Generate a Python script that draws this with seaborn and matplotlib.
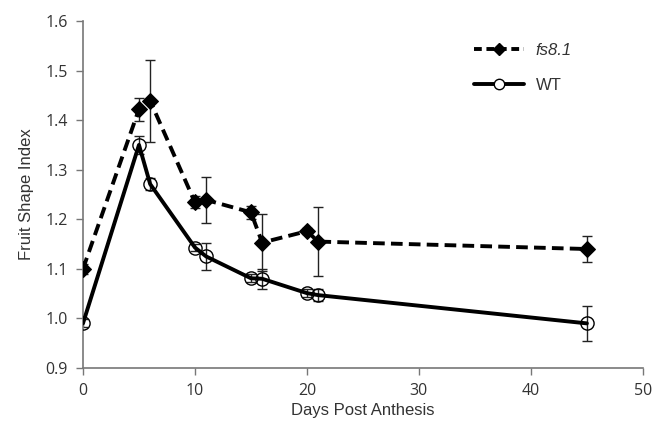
import matplotlib
matplotlib.use("Agg")
import matplotlib.pyplot as plt
import seaborn as sns
import pandas as pd
from matplotlib.lines import Line2D

days = [0, 5, 6, 10, 11, 15, 16, 20, 21, 45]
fs81_mean = [1.100, 1.422, 1.439, 1.234, 1.239, 1.214, 1.153, 1.176, 1.155, 1.140]
fs81_err = [0.010, 0.023, 0.083, 0.012, 0.047, 0.013, 0.057, 0.006, 0.070, 0.027]
wt_mean = [0.990, 1.350, 1.271, 1.143, 1.125, 1.081, 1.080, 1.051, 1.047, 0.990]
wt_err = [0.008, 0.018, 0.012, 0.008, 0.028, 0.008, 0.020, 0.008, 0.012, 0.035]
xticks = [0, 10, 20, 30, 40, 50]
yticks = [0.9, 1.0, 1.1, 1.2, 1.3, 1.4, 1.5, 1.6]

sns.set_theme(style="white")
plt.rcParams["font.family"] = ["Liberation Sans", "DejaVu Sans"]

df = pd.DataFrame({
    "day": days * 2,
    "fsi": fs81_mean + wt_mean,
    "err": fs81_err + wt_err,
    "line": ["fs8.1"] * len(days) + ["WT"] * len(days),
})

fig = plt.figure(figsize=(6.56, 4.30), dpi=100)
ax = fig.add_axes([0.1265, 0.1442, 0.8535, 0.8070])

# error bars
ax.errorbar(days, fs81_mean, yerr=fs81_err, fmt="none", ecolor="#222222",
            elinewidth=1.0, capsize=3.5, capthick=1.0, zorder=2)
ax.errorbar(days, wt_mean, yerr=wt_err, fmt="none", ecolor="#222222",
            elinewidth=1.0, capsize=3.5, capthick=1.0, zorder=2)

sub_f = df[df["line"] == "fs8.1"]
sub_w = df[df["line"] == "WT"]
sns.lineplot(data=sub_f, x="day", y="fsi", ax=ax, color="black", lw=2.8,
             linestyle=(0, (3.0, 1.6)), marker="D", markersize=8.5,
             markerfacecolor="black", markeredgecolor="black", zorder=3,
             errorbar=None, legend=False)
sns.lineplot(data=sub_w, x="day", y="fsi", ax=ax, color="black", lw=2.8,
             marker="o", markersize=9.5, markerfacecolor="none",
             markeredgecolor="black", markeredgewidth=1.0, zorder=3,
             errorbar=None, legend=False)

ax.set_xlim(0, 50)
ax.set_ylim(0.9, 1.6)
ax.set_xticks(xticks)
ax.set_yticks(yticks)
ax.set_yticklabels([f"{v:.1f}" for v in yticks])
ax.set_xticklabels([str(v) for v in xticks])
ax.tick_params(axis="both", which="both", direction="out", length=5, width=1,
               color="#777777", labelsize=11.5, labelcolor="#333333", pad=6,
               left=True, bottom=True)
for lab in ax.get_xticklabels() + ax.get_yticklabels():
    lab.set_fontfamily(["Open Sans", "DejaVu Sans"])
for s in ["top", "right"]:
    ax.spines[s].set_visible(False)
for s in ["left", "bottom"]:
    ax.spines[s].set_color("#777777")
    ax.spines[s].set_linewidth(1.2)
ax.set_xlabel("Days Post Anthesis", fontsize=12, color="#333333", labelpad=3)
ax.set_ylabel("Fruit Shape Index", fontsize=12, color="#333333", labelpad=8)

handles = [
    Line2D([0], [0], color="black", lw=2.8, linestyle=(0, (2.0, 1.2)),
           marker="D", markersize=6.5, markerfacecolor="black"),
    Line2D([0], [0], color="black", lw=2.8, marker="o", markersize=7.5,
           markerfacecolor="white", markeredgecolor="black", markeredgewidth=1.0),
]
leg = ax.legend(handles, ["fs8.1", "WT"], loc="upper right",
                bbox_to_anchor=(0.90, 0.98), frameon=False, fontsize=12,
                handlelength=3.0, labelspacing=1.2, handletextpad=0.7)
leg.get_texts()[0].set_style("italic")
for t in leg.get_texts():
    t.set_color("#333333")

fig.savefig("out.png", dpi=100)
